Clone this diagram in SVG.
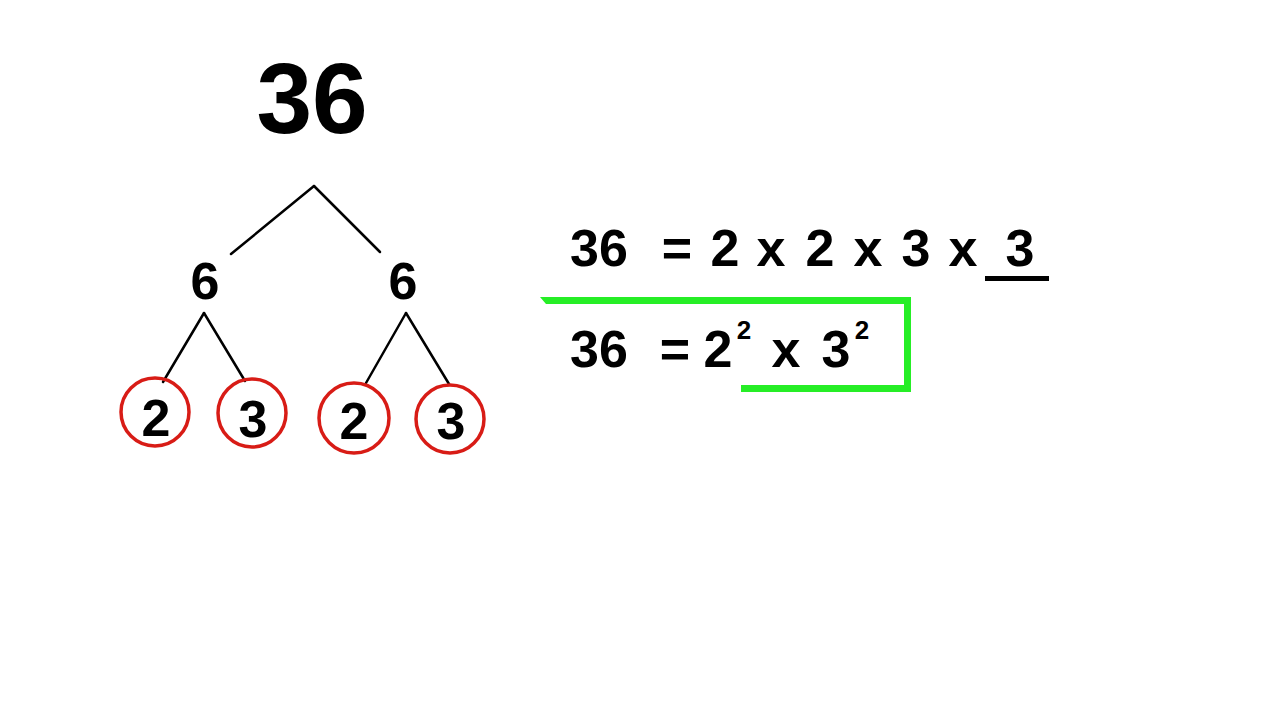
<svg xmlns="http://www.w3.org/2000/svg" width="1280" height="720" viewBox="0 0 1280 720">
<style>
.t{font-family:"Liberation Sans",Arial,sans-serif;font-weight:bold;fill:#000;text-anchor:middle}
.n{font-size:52px}
.s{font-size:26px}
.ln{stroke:#000;stroke-width:2.5;fill:none;stroke-linecap:round}
.c{fill:none;stroke:#d81c16;stroke-width:3.5}
</style>
<rect width="1280" height="720" fill="#fff"/>
<g id="connectors">
<line class="ln" x1="314" y1="186" x2="231" y2="254"/>
<line class="ln" x1="314" y1="186" x2="380" y2="252"/>
<line class="ln" x1="204" y1="313" x2="163" y2="382"/>
<line class="ln" x1="204" y1="313" x2="245" y2="381"/>
<line class="ln" x1="406" y1="313" x2="366" y2="383"/>
<line class="ln" x1="406" y1="313" x2="449" y2="384"/>
</g>
<g id="root"><text class="t" x="312" y="133" style="font-size:100px">36</text></g>
<g id="six-left"><text class="t n" x="205" y="299">6</text></g>
<g id="six-right"><text class="t n" x="403" y="299">6</text></g>
<g id="leaf1"><circle class="c" cx="155" cy="412" r="34"/><text class="t n" x="156" y="436">2</text></g>
<g id="leaf2"><circle class="c" cx="252" cy="413" r="34"/><text class="t n" x="253" y="437">3</text></g>
<g id="leaf3"><circle class="c" cx="354" cy="418" r="35"/><text class="t n" x="354" y="439">2</text></g>
<g id="leaf4"><circle class="c" cx="450" cy="419" r="34"/><text class="t n" x="451" y="439">3</text></g>
<g id="equation1">
<text class="t n" x="599" y="266">36</text>
<text class="t n" x="677" y="266">=</text>
<text class="t n" x="725" y="266">2</text>
<text class="t n" x="771" y="266">x</text>
<text class="t n" x="820" y="266">2</text>
<text class="t n" x="868" y="266">x</text>
<text class="t n" x="916" y="266">3</text>
<text class="t n" x="963" y="266">x</text>
<text class="t n" x="1020" y="266">3</text>
<rect x="985" y="276" width="64" height="5" fill="#000"/>
</g>
<g id="equation2">
<text class="t n" x="599" y="367">36</text>
<text class="t n" x="675" y="367">=</text>
<text class="t n" x="718" y="367">2</text>
<text class="t s" x="744" y="339">2</text>
<text class="t n" x="786" y="367">x</text>
<text class="t n" x="836" y="367">3</text>
<text class="t s" x="862" y="339">2</text>
</g>
<g id="highlight">
<path d="M540,297 L911,297 L911,392 L741,392 L741,385 L904,385 L904,304 L546,304 Z" fill="#26ee26"/>
</g>
</svg>
